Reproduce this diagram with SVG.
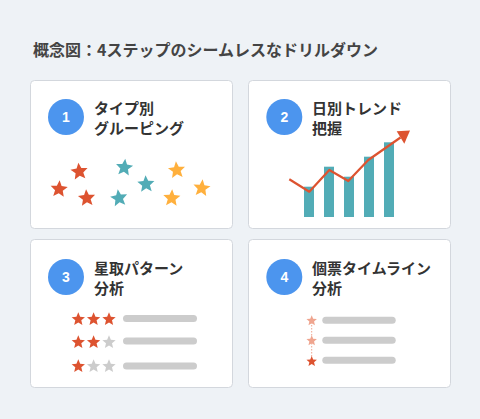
<svg xmlns="http://www.w3.org/2000/svg" xmlns:xlink="http://www.w3.org/1999/xlink" width="480" height="419" viewBox="0 0 480 419">
  <style>
    .bg { fill: #EEF2F6; }
    .card { fill: #FFFFFF; stroke: #D3D7DD; stroke-width: 1; }
    .badge { fill: #4C95EE; }
    .num { font-family: "Liberation Sans", Arial, sans-serif; font-weight: bold; font-size: 14px; fill: #FFFFFF; text-anchor: middle; }
    .title { font-family: "Noto Sans CJK JP", "Noto Sans", sans-serif; font-weight: bold; font-size: 16px; fill: #444444; }
    .label { font-family: "Noto Sans CJK JP", "Noto Sans", sans-serif; font-weight: bold; font-size: 15px; fill: #333333; }
    .red { fill: #DD5330; }
    .teal { fill: #52ACB6; }
    .orange { fill: #FFB03D; }
    .grey { fill: #CCCCCC; }
    .pale { fill: #EFA58F; }
    .bar { fill: #52ACB6; }
    .line { fill: #CCCCCC; }
  </style>
  <defs>
    <path id="star" d="M0,-10 L2.645,-3.641 L9.511,-3.090 L4.280,1.391 L5.878,8.090 L0,4.5 L-5.878,8.090 L-4.280,1.391 L-9.511,-3.090 L-2.645,-3.641 Z"/>
  </defs>

  <rect class="bg" x="0" y="0" width="480" height="419"/>
  <text class="title" x="33" y="56">概念図：4ステップのシームレスなドリルダウン</text>

  <g id="card1">
    <rect class="card" x="30.5" y="80.5" width="202" height="148" rx="4"/>
    <circle class="badge" cx="66" cy="117" r="18"/>
    <text class="num" x="66" y="122">1</text>
    <text class="label" x="94" y="114">タイプ別</text>
    <text class="label" x="94" y="134">グルーピング</text>
    <use xlink:href="#star" class="red" transform="translate(79.3,171.6) rotate(-6) scale(0.9)"/>
    <use xlink:href="#star" class="red" transform="translate(59,189.2) rotate(4) scale(0.9)"/>
    <use xlink:href="#star" class="red" transform="translate(86.7,198.2) rotate(-4) scale(0.9)"/>
    <use xlink:href="#star" class="teal" transform="translate(124.3,167.6) rotate(6) scale(0.9)"/>
    <use xlink:href="#star" class="teal" transform="translate(146,184.2) rotate(-3) scale(0.9)"/>
    <use xlink:href="#star" class="teal" transform="translate(119,198.2) rotate(-8) scale(0.9)"/>
    <use xlink:href="#star" class="orange" transform="translate(176.7,170.2) rotate(-5) scale(0.9)"/>
    <use xlink:href="#star" class="orange" transform="translate(201.7,188.2) rotate(6) scale(0.9)"/>
    <use xlink:href="#star" class="orange" transform="translate(171.7,198.2) rotate(3) scale(0.9)"/>
  </g>

  <g id="card2">
    <rect class="card" x="248.5" y="80.5" width="202" height="148" rx="4"/>
    <circle class="badge" cx="284.3" cy="117" r="18"/>
    <text class="num" x="284.3" y="122">2</text>
    <text class="label" x="312" y="114">日別トレンド</text>
    <text class="label" x="312" y="134">把握</text>
    <rect class="bar" x="304" y="186.7" width="10" height="30.3"/>
    <rect class="bar" x="324" y="166.7" width="10" height="50.3"/>
    <rect class="bar" x="344" y="176.7" width="10" height="40.3"/>
    <rect class="bar" x="364" y="156.7" width="10" height="60.3"/>
    <rect class="bar" x="384" y="142.3" width="10" height="74.7"/>
    <polyline points="289.3,179.3 309.3,191.7 329.3,170 348.3,181 368.3,160 400.5,137.5" fill="none" stroke="#DD5330" stroke-width="2.2" stroke-linejoin="round"/>
    <polygon points="410,130.5 396.7,131.3 404.3,143.7" fill="#DD5330"/>
  </g>

  <g id="card3">
    <rect class="card" x="30.5" y="239.5" width="202" height="148" rx="4"/>
    <circle class="badge" cx="66" cy="277" r="18"/>
    <text class="num" x="66" y="282">3</text>
    <text class="label" x="94" y="274">星取パターン</text>
    <text class="label" x="94" y="294">分析</text>
    <use xlink:href="#star" class="red" transform="translate(78.3,319.3) scale(0.7)"/>
    <use xlink:href="#star" class="red" transform="translate(93.6,319.3) scale(0.7)"/>
    <use xlink:href="#star" class="red" transform="translate(109,319.3) scale(0.7)"/>
    <rect class="line" x="123" y="315" width="74" height="7" rx="3.5"/>
    <use xlink:href="#star" class="red" transform="translate(78.3,342.3) scale(0.7)"/>
    <use xlink:href="#star" class="red" transform="translate(93.6,342.3) scale(0.7)"/>
    <use xlink:href="#star" class="grey" transform="translate(109,342.3) scale(0.7)"/>
    <rect class="line" x="123" y="337.5" width="74" height="7" rx="3.5"/>
    <use xlink:href="#star" class="red" transform="translate(78.3,366.3) scale(0.7)"/>
    <use xlink:href="#star" class="grey" transform="translate(93.6,366.3) scale(0.7)"/>
    <use xlink:href="#star" class="grey" transform="translate(109,366.3) scale(0.7)"/>
    <rect class="line" x="123" y="362.5" width="74" height="7" rx="3.5"/>
  </g>

  <g id="card4">
    <rect class="card" x="248.5" y="239.5" width="202" height="148" rx="4"/>
    <circle class="badge" cx="284.3" cy="277" r="18"/>
    <text class="num" x="284.3" y="282">4</text>
    <text class="label" x="312" y="274">個票タイムライン</text>
    <text class="label" x="312" y="294">分析</text>
    <line x1="311.7" y1="322" x2="311.7" y2="360" stroke="#EFA58F" stroke-width="1" stroke-dasharray="1.5 1.5"/>
    <use xlink:href="#star" class="pale" transform="translate(311.7,320.8) scale(0.55)"/>
    <use xlink:href="#star" class="pale" transform="translate(311.7,340.8) scale(0.55)"/>
    <use xlink:href="#star" class="red" transform="translate(311.7,361.5) scale(0.55)"/>
    <rect class="line" x="322.3" y="316.8" width="73.4" height="7" rx="3.5"/>
    <rect class="line" x="322.3" y="336.8" width="73.4" height="7" rx="3.5"/>
    <rect class="line" x="322.3" y="356.8" width="73.4" height="7" rx="3.5"/>
  </g>
</svg>
